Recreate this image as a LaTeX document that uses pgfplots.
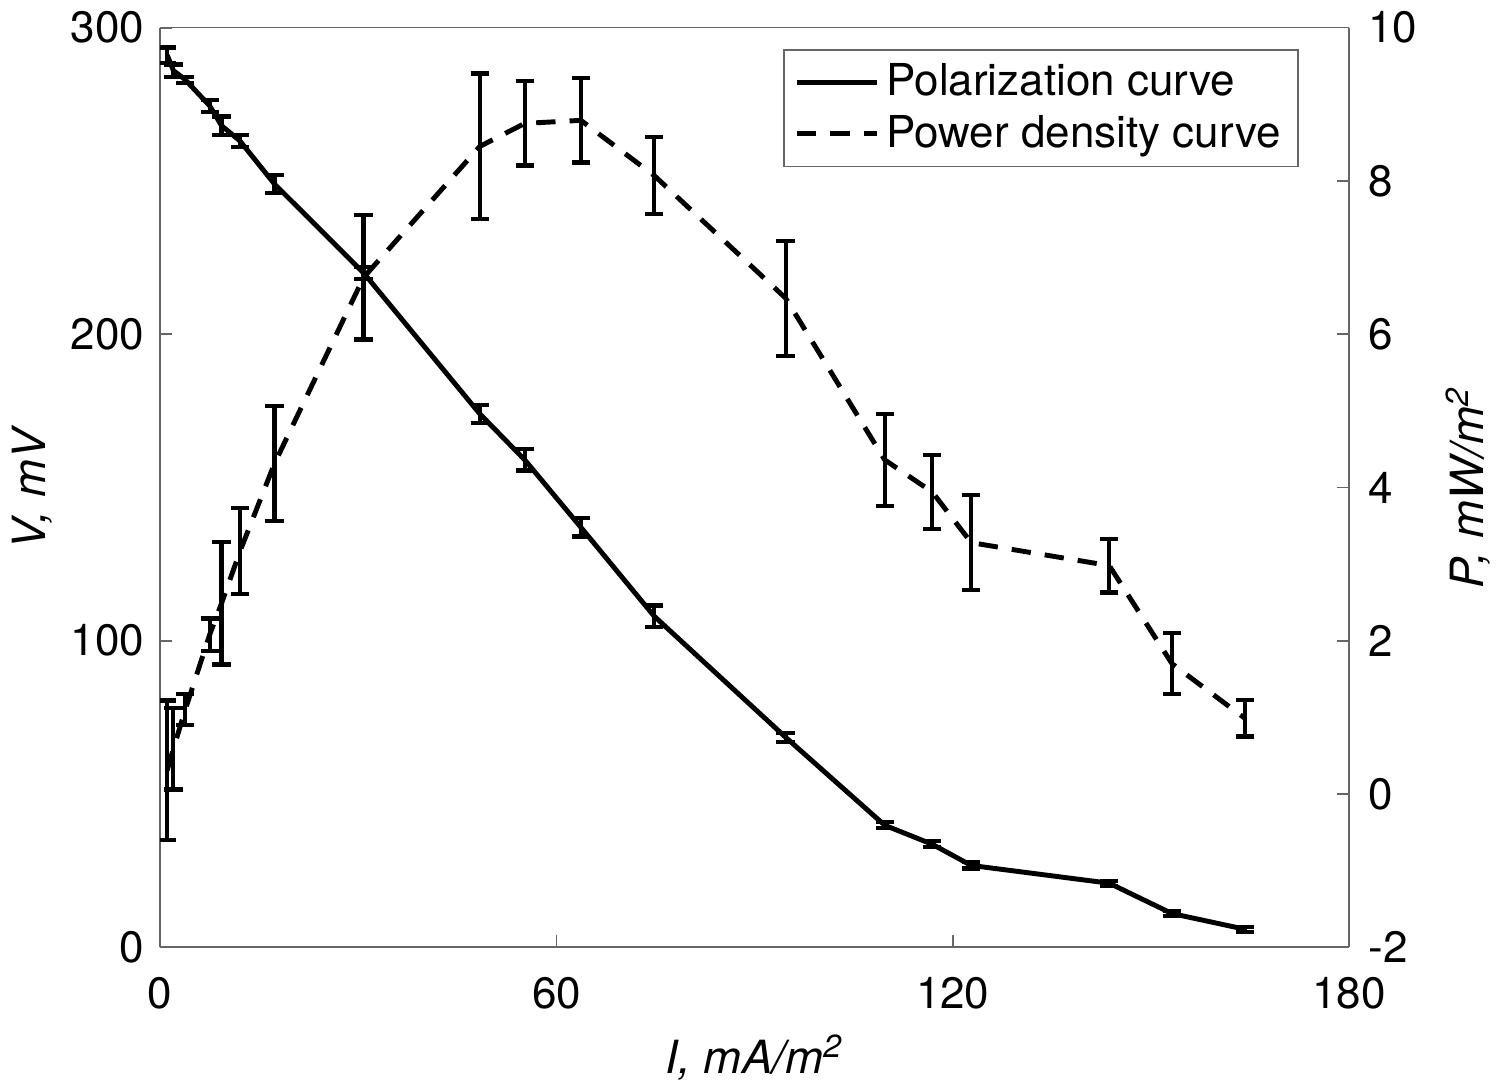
\documentclass[border=0pt]{standalone}
\usepackage{fontspec}
\setmainfont{TeX Gyre Heros}
\usepackage{pgfplots}
\pgfplotsset{compat=1.18}

\pgfplotsset{
  common/.style={
    scale only axis, width=11.88cm, height=9.19cm,
    xmin=0, xmax=180,
    axis line style={black!60, line width=0.5pt},
    tick style={black!60, line width=0.5pt},
    tick align=inside,
    major tick length=0.12cm,
    ticklabel style={font=\fontsize{12.5}{15}\selectfont},
    label style={font=\fontsize{13}{16}\selectfont},
    /pgf/number format/assume math mode=true,
  },
  ebar/.style={
    error bars/.cd, y dir=both, y explicit,
    error mark options={solid, rotate=90, mark size=2.6pt, line width=1.2pt, black},
    error bar style={solid, line width=1.2pt, black},
  },
}

\begin{document}
\begin{tikzpicture}
\begin{axis}[
  common,
  ymin=0, ymax=300,
  xtick={0,60,120,180},
  ytick={0,100,200,300},
  axis y line*=left,
  axis x line*=bottom,
  xticklabel style={yshift=-5pt},
  yticklabel style={xshift=-1pt},
  xlabel={\textit{I, mA/m}\textsuperscript{\textit{2}}},
  ylabel={\textit{V, mV}},
  xlabel style={anchor=center, at={(axis description cs:0.5,-0.12)}},
  ylabel style={anchor=center, at={(axis description cs:-0.108,0.5)}},
]
\addplot[black, line width=1.4pt, ebar] coordinates {
  (1.07,291) +- (0,2.5)
  (2.0,286) +- (0,2)
  (3.8,283) +- (0,1)
  (7.5,274.5) +- (0,2)
  (9.3,268) +- (0,3)
  (12.1,263) +- (0,2)
  (17.3,249) +- (0,3)
  (30.8,220) +- (0,2)
  (48.4,174) +- (0,3)
  (55.2,159) +- (0,3.5)
  (63.7,137) +- (0,3)
  (74.8,108) +- (0,3.5)
  (94.7,68.5) +- (0,1.5)
  (109.7,39.8) +- (0,1)
  (116.9,33.6) +- (0,1)
  (122.8,26.7) +- (0,1)
  (143.7,20.9) +- (0,0.8)
  (153.2,11) +- (0,0.8)
  (164.2,5.9) +- (0,0.8)
};
\end{axis}
\begin{axis}[
  common,
  ymin=-2, ymax=10,
  ytick={-2,0,2,4,6,8,10},
  axis y line*=right,
  axis x line*=top,
  xtick=\empty,
  yticklabel style={xshift=2pt},
  ylabel={\textit{P, mW/m}\textsuperscript{\textit{2}}},
  ylabel style={anchor=center, at={(axis description cs:1.1,0.5)}},
  legend style={at={(0.958,0.977)}, anchor=north east,
    draw=black!60, line width=0.5pt,
    font=\fontsize{12.5}{15}\selectfont,
    row sep=0pt, inner xsep=3pt, inner ysep=2pt},
  legend cell align=left,
  legend image code/.code={\draw[#1] (0cm,0cm) -- (0.8cm,0cm);},
]
\addlegendimage{black, line width=1.4pt}
\addlegendentry{Polarization curve}
\addplot[black, line width=1.4pt, dash pattern=on 5.5pt off 4pt, ebar] coordinates {
  (1.07,0.31) +- (0,0.91)
  (2.0,0.59) +- (0,0.53)
  (3.8,1.10) +- (0,0.2)
  (7.5,2.08) +- (0,0.21)
  (9.3,2.49) +- (0,0.8)
  (12.1,3.17) +- (0,0.56)
  (17.3,4.31) +- (0,0.75)
  (30.8,6.74) +- (0,0.81)
  (48.4,8.45) +- (0,0.95)
  (55.2,8.75) +- (0,0.55)
  (63.7,8.79) +- (0,0.55)
  (74.8,8.07) +- (0,0.5)
  (94.7,6.47) +- (0,0.75)
  (109.7,4.36) +- (0,0.6)
  (116.9,3.94) +- (0,0.48)
  (122.8,3.28) +- (0,0.62)
  (143.7,2.98) +- (0,0.35)
  (153.2,1.70) +- (0,0.4)
  (164.2,0.99) +- (0,0.24)
};
\addlegendentry{Power density curve}
\end{axis}
\end{tikzpicture}
\end{document}
